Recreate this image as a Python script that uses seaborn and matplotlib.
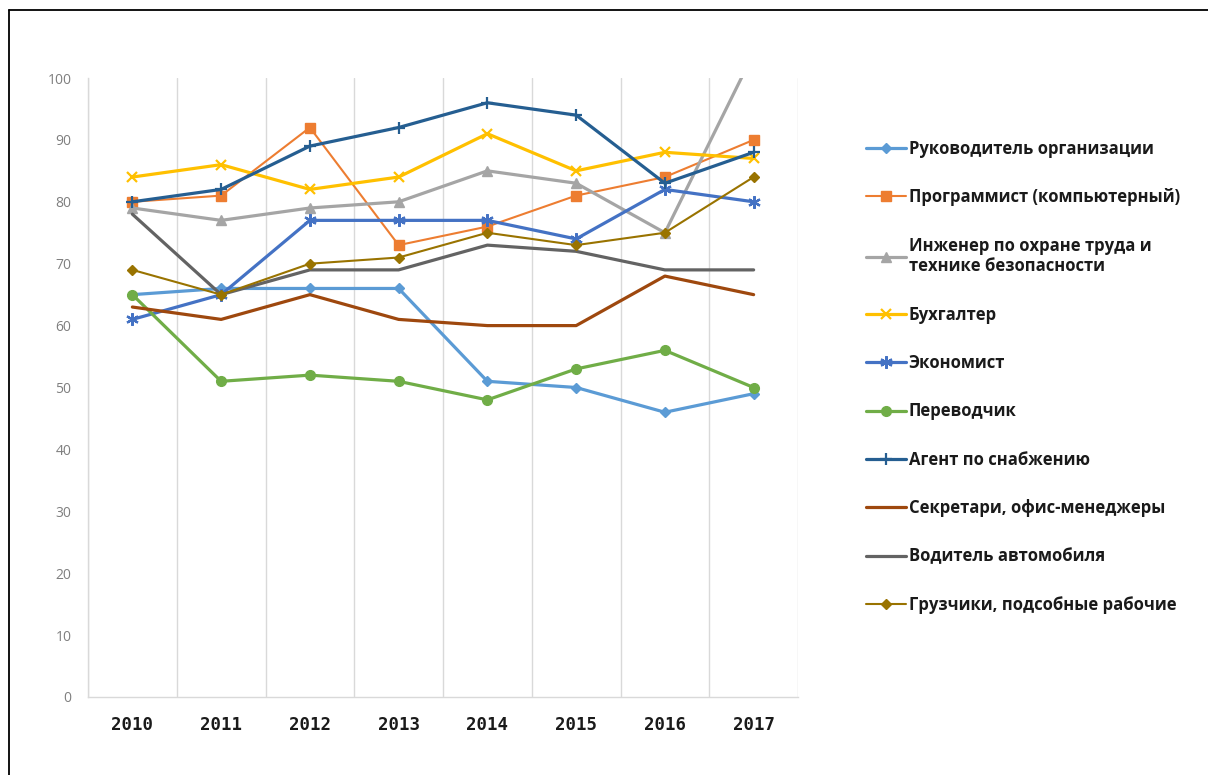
import matplotlib.pyplot as plt
import matplotlib.lines as mlines
import seaborn as sns
import numpy as np

years = ["2010", "2011", "2012", "2013", "2014", "2015", "2016", "2017"]

rukovoditel = [65, 66, 66, 66, 51, 50, 46, 49]
programmist = [80, 81, 92, 73, 76, 81, 84, 90]
inzhener = [79, 77, 79, 80, 85, 83, 75, 104]
buhgalter = [84, 86, 82, 84, 91, 85, 88, 87]
ekonomist = [61, 65, 77, 77, 77, 74, 82, 80]
perevodchik = [65, 51, 52, 51, 48, 53, 56, 50]
agent = [80, 82, 89, 92, 96, 94, 83, 88]
sekretari = [63, 61, 65, 61, 60, 60, 68, 65]
voditel = [78, 65, 69, 69, 73, 72, 69, 69]
gruzchiki = [69, 65, 70, 71, 75, 73, 75, 84]

series_names = [
    "Руководитель организации",
    "Программист (компьютерный)",
    "Инженер по охране труда и\nтехнике безопасности",
    "Бухгалтер",
    "Экономист",
    "Переводчик",
    "Агент по снабжению",
    "Секретари, офис-менеджеры",
    "Водитель автомобиля",
    "Грузчики, подсобные рабочие",
]
series_values = [rukovoditel, programmist, inzhener, buhgalter, ekonomist,
                 perevodchik, agent, sekretari, voditel, gruzchiki]

# colour, marker, marker size, line width
styles = [
    ("#5B9BD5", "D", 5, 2.3),
    ("#ED7D31", "s", 6.5, 1.5),
    ("#A5A5A5", "^", 7, 2.3),
    ("#FFC000", "x", 7, 2.3),
    ("#4472C4", (6, 2, 0), 9, 2.3),
    ("#70AD47", "o", 7, 2.3),
    ("#255E91", "+", 9, 2.3),
    ("#9E480E", None, 0, 2.3),
    ("#636363", None, 0, 2.3),
    ("#997300", "D", 5.5, 1.5),
]


def main():
    sns.set_style("white")
    plt.rcParams["font.family"] = ["Open Sans", "DejaVu Sans"]

    fig = plt.figure(figsize=(12.08, 7.75), dpi=100)
    ax = fig.add_axes([88 / 1208, 1 - 697 / 775, 710 / 1208, 619 / 775])

    x = np.arange(len(years))
    handles = []
    for name, vals, (color, marker, ms, lw) in zip(series_names, series_values, styles):
        sns.lineplot(x=x, y=vals, ax=ax, color=color, linewidth=lw,
                     marker=marker, markersize=ms, markeredgecolor=color,
                     markeredgewidth=1.6 if marker in ("x", "+", (6, 2, 0)) else 1,
                     label=name, legend=False)
        handles.append(ax.lines[-1])

    ax.set_xlim(-0.5, len(years) - 0.5)
    ax.set_ylim(0, 100)
    ax.set_yticks(np.arange(0, 101, 10))
    ax.set_xticks(x)
    ax.set_xticklabels(years, fontfamily="DejaVu Sans Mono", fontweight="bold",
                       fontsize=12.5, color="#1a1a1a")
    ax.set_xticks(np.arange(-0.5, len(years), 1), minor=True)
    ax.tick_params(axis="y", labelsize=10, colors="#7f7f7f", length=0, pad=12)
    ax.tick_params(axis="x", which="both", length=0, pad=14)
    ax.xaxis.grid(True, which="minor", color="#d9d9d9", linewidth=1)
    ax.xaxis.grid(False, which="major")
    ax.yaxis.grid(False)

    for side in ["top", "right"]:
        ax.spines[side].set_visible(False)
    for side in ["left", "bottom"]:
        ax.spines[side].set_color("#d9d9d9")
        ax.spines[side].set_linewidth(1)

    leg = ax.legend(handles=handles, labels=series_names, loc="upper left",
                    bbox_to_anchor=(866 / 1208, 1 - 140 / 775),
                    bbox_transform=fig.transFigure, frameon=False,
                    prop={"family": "Open Sans", "weight": "bold", "size": 12},
                    handlelength=2.4, handletextpad=0.15, labelspacing=1.82,
                    borderpad=0, borderaxespad=0)
    for t in leg.get_texts():
        t.set_color("#1a1a1a")

    # outer frame (only the left and top edges fall inside the picture)
    fig.add_artist(mlines.Line2D([9 / 1208, 9 / 1208], [0, 1 - 10 / 775],
                                 transform=fig.transFigure, color="black", linewidth=1.3))
    fig.add_artist(mlines.Line2D([9 / 1208, 1], [1 - 10 / 775, 1 - 10 / 775],
                                 transform=fig.transFigure, color="black", linewidth=1.3))

    fig.savefig("out.png", dpi=100)


if __name__ == "__main__":
    main()
